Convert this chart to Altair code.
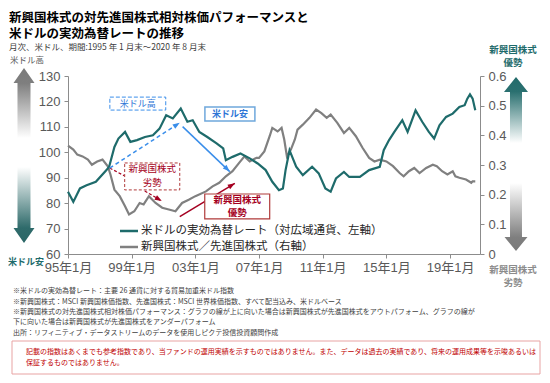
import math
import altair as alt
import pandas as pd

# ---------------- data ----------------
usd_month = ["1995-01","1995-05","1995-10","1996-03","1996-10","1997-06","1997-08","1997-12","1998-03","1998-08",
             "1998-12","1999-05","1999-11","2000-05","2000-10","2001-03","2001-08","2002-02","2002-07","2002-11",
             "2003-04","2003-10","2004-05","2004-10","2004-12","2005-05","2005-11","2006-06","2006-12","2007-06",
             "2007-11","2008-04","2008-07","2008-09","2008-12","2009-02","2009-05","2009-10","2010-05","2010-10",
             "2011-03","2011-07","2011-11","2012-05","2012-09","2013-05","2013-12","2014-08","2014-11","2015-03",
             "2015-07","2016-01","2016-05","2016-11","2017-04","2017-09","2018-01","2018-05","2018-10","2019-03",
             "2019-08","2019-12","2020-02","2020-04","2020-06","2020-08"]
usd_value = [84.5,80.5,85.8,87.0,88.4,93.0,94.3,102.1,105.4,108.0,
             104.1,104.8,106.0,106.7,109.3,114.6,113.3,117.2,112.0,112.6,
             108.0,106.0,103.5,101.5,96.9,98.2,99.5,97.6,95.6,93.0,
             88.4,85.1,85.8,93.0,100.8,98.2,94.3,91.0,94.3,91.7,
             85.8,84.5,89.7,92.3,90.3,90.3,93.0,94.3,100.8,104.8,
             108.0,112.6,108.0,116.5,112.0,108.0,105.4,110.6,113.9,115.2,
             117.8,118.5,121.1,122.8,121.1,116.5]

em_month = ["1995-01","1995-05","1995-08","1995-12","1996-04","1996-07","1996-11","1997-03","1997-07","1997-09",
            "1997-12","1998-04","1998-08","1998-11","1999-03","1999-07","1999-10","2000-02","2000-07","2000-12",
            "2001-05","2001-10","2002-03","2002-08","2003-01","2003-09","2004-02","2004-07","2004-12","2005-05",
            "2005-10","2006-02","2006-06","2006-11","2007-01","2007-05","2007-09","2007-11","2008-03","2008-06",
            "2008-08","2008-10","2009-01","2009-04","2009-06","2009-10","2010-03","2010-08","2010-12","2011-04",
            "2011-07","2011-12","2012-05","2012-09","2013-02","2013-07","2013-12","2014-04","2014-08","2015-01",
            "2015-06","2015-11","2016-02","2016-06","2016-10","2017-02","2017-07","2017-12","2018-03","2018-07",
            "2018-11","2019-03","2019-05","2019-08","2020-01","2020-05","2020-06","2020-08"]
em_value = [0.365,0.352,0.335,0.329,0.318,0.301,0.312,0.318,0.296,0.268,
            0.217,0.195,0.161,0.133,0.144,0.172,0.167,0.195,0.172,0.156,
            0.150,0.144,0.172,0.183,0.195,0.211,0.228,0.240,0.262,0.279,
            0.307,0.329,0.312,0.324,0.324,0.346,0.397,0.425,0.413,0.425,
            0.386,0.329,0.352,0.386,0.419,0.436,0.459,0.487,0.475,0.459,
            0.470,0.442,0.408,0.425,0.397,0.358,0.324,0.312,0.318,0.312,
            0.296,0.273,0.262,0.279,0.290,0.273,0.290,0.301,0.296,0.279,
            0.268,0.279,0.262,0.257,0.251,0.240,0.245,0.245]

x_ticks = [1995, 1999, 2003, 2007, 2011, 2015, 2019]
left_ticks = [60, 70, 80, 90, 100, 110, 120, 130]
right_ticks = [0, 0.1, 0.2, 0.3, 0.4, 0.5, 0.6]

title_lines = ["新興国株式の対先進国株式相対株価パフォーマンスと", "米ドルの実効為替レートの推移"]
subtitle = "月次、米ドル、期間:1995 年 1 月末～2020 年 8 月末"
legend_labels = ["米ドルの実効為替レート（対広域通貨、左軸）", "新興国株式／先進国株式（右軸）"]
footnotes = [
    "※米ドルの実効為替レート：主要 26 通貨に対する貿易加重米ドル指数",
    "※新興国株式：MSCI 新興国株価指数、先進国株式：MSCI 世界株価指数、すべて配当込み、米ドルベース",
    "※新興国株式の対先進国株式相対株価パフォーマンス：グラフの線が上に向いた場合は新興国株式が先進国株式をアウトパフォーム、グラフの線が",
    "下に向いた場合は新興国株式が先進国株式をアンダーパフォーム",
    "出所：リフィニティブ・データストリームのデータを使用しピクテ投信投資顧問作成",
]
disclaimer = [
    "記載の指数はあくまでも参考指数であり、当ファンドの運用実績を示すものではありません。また、データは過去の実績であり、将来の運用成果等を示唆あるいは",
    "保証するものではありません。",
]

# annotation anchors in data coordinates (year, left-axis value)
box_usd_high = (1997.63, 2001.14, 121.7, 116.6)
box_usd_low = (2003.6, 2006.74, 117.8, 112.3)
box_em_weak = (1998.56, 2002.02, 95.8, 85.2)
box_em_strong = (2003.59, 2007.67, 83.6, 73.8)
arrow_blue_dash = (1997.62, 93.8, 2002.02, 111.6)
arrow_blue_solid = (2002.2, 110.1, 2005.16, 92.4)
line_red_dash = (1997.62, 93.8, 1998.56, 90.7)
arrow_red_dash = (1999.82, 84.8, 2000.89, 80.8)
arrow_red_solid = (2002.02, 74.7, 2005.48, 87.8)

# ---------------- setup ----------------
def month_to_x(m):
    y, mo = m.split("-")
    return int(y) + (int(mo) - 1) / 12.0

usd = pd.DataFrame({"t": [month_to_x(m) for m in usd_month], "v": usd_value})
em = pd.DataFrame({"t": [month_to_x(m) for m in em_month], "v": em_value})

X_DOMAIN = [1995, 2020.88]
W, H = 412, 178
PPY = W / (X_DOMAIN[1] - X_DOMAIN[0])
PPU = H / 70.0

JP = "Noto Sans CJK JP"
NUM = "Liberation Sans, Noto Sans CJK JP"
GREEN = "#1E6B6B"
GRAY = "#808080"
BLUE = "#3A8EEA"
RED = "#A50021"
AXC = "#8C8C8C"
LBL = "#595959"

xscale = alt.Scale(domain=X_DOMAIN, nice=False, zero=False)
ylscale = alt.Scale(domain=[60, 130], nice=False, zero=False)
yrscale = alt.Scale(domain=[0, 0.6], nice=False, zero=False)

x_axis = alt.Axis(values=x_ticks, labelExpr="substring(toString(datum.value), 2) + '年1月'",
                  labelFont=NUM, labelFontSize=13, labelColor=LBL, labelPadding=3,
                  domainColor=AXC, tickColor=AXC, tickSize=4, grid=False, title=None,
                  labelFlush=False, labelOverlap=False)
yl_axis = alt.Axis(values=left_ticks, labelFont=NUM, labelFontSize=13, labelColor=LBL, labelPadding=4,
                   domainColor=AXC, tickColor=AXC, tickSize=4, grid=False, title=None, orient="left")
yr_axis = alt.Axis(values=right_ticks, labelExpr="datum.value == 0 ? '0' : format(datum.value, '.1f')",
                   labelFont=NUM, labelFontSize=13, labelColor=LBL, labelPadding=4,
                   domainColor=AXC, tickColor=AXC, tickSize=4, grid=False, title=None, orient="right")


def X(field):
    return alt.X(field, type="quantitative", scale=xscale, axis=x_axis, title=None)


def YL(field):
    return alt.Y(field, type="quantitative", scale=ylscale, axis=yl_axis, title=None)


one = pd.DataFrame({"k": [0]})

green_line = alt.Chart(usd).mark_line(color=GREEN, strokeWidth=2.2).encode(x=X("t"), y=YL("v"))
gray_line = alt.Chart(em).mark_line(color=GRAY, strokeWidth=2.2).encode(
    x=X("t"), y=alt.Y("v", type="quantitative", scale=yrscale, axis=yr_axis, title=None))


def box(b, stroke, dash=None, width=1.0):
    kw = dict(fill="white", stroke=stroke, strokeWidth=width)
    if dash:
        kw["strokeDash"] = dash
    df = pd.DataFrame({"x1": [b[0]], "x2": [b[1]], "y1": [b[2]], "y2": [b[3]]})
    return alt.Chart(df).mark_rect(**kw).encode(x=X("x1"), x2="x2", y=YL("y1"), y2="y2")


HEAD = "M0,0L0.5,1.35L-0.5,1.35Z"


def arrow(a, color, dash=None, head=True, width=1.5):
    kw = dict(color=color, strokeWidth=width)
    if dash:
        kw["strokeDash"] = dash
    df = pd.DataFrame({"x1": [a[0]], "y1": [a[1]], "x2": [a[2]], "y2": [a[3]]})
    layers = [alt.Chart(df).mark_rule(**kw).encode(x=X("x1"), y=YL("y1"), x2="x2", y2="y2")]
    if head:
        ang = math.degrees(math.atan2((a[2] - a[0]) * PPY, (a[3] - a[1]) * PPU)) % 360
        layers.append(alt.Chart(df).mark_point(shape=HEAD, size=110, filled=True, fill=color, opacity=1,
                                               strokeWidth=0, angle=ang).encode(x=X("x2"), y=YL("y2")))
    return layers


def dtext(txt, x, y, color, size, bold=False):
    df = pd.DataFrame({"x": [x], "y": [y], "s": [txt]})
    return alt.Chart(df).mark_text(color=color, fontSize=size, font=JP,
                                   fontWeight="bold" if bold else "normal",
                                   align="center", baseline="middle").encode(x=X("x"), y=YL("y"), text="s:N")


def ptext(txt, px, py, color="#262626", size=9, bold=False, align="left"):
    # px, py: pixel positions relative to the plot origin
    return alt.Chart(one).mark_text(text=txt, color=color, fontSize=size, font=JP,
                                    fontWeight="bold" if bold else "normal",
                                    align=align, baseline="middle").encode(x=alt.value(px), y=alt.value(py))


def grad(stops):
    return alt.LinearGradient(gradient="linear", x1=0, x2=0, y1=0, y2=1,
                              stops=[alt.GradientStop(color=c, offset=o) for o, c in stops])


def big_arrow(cx, cy, half_h, head_hw, shaft_hw, head_len, up, stops):
    s = half_h
    hw, sw = head_hw / s, shaft_hw / s
    hb = head_len / s
    if up:
        p = (f"M0,-1L{hw:.3f},{-1+hb:.3f}L{sw:.3f},{-1+hb:.3f}L{sw:.3f},1L{-sw:.3f},1"
             f"L{-sw:.3f},{-1+hb:.3f}L{-hw:.3f},{-1+hb:.3f}Z")
    else:
        p = (f"M0,1L{hw:.3f},{1-hb:.3f}L{sw:.3f},{1-hb:.3f}L{sw:.3f},-1L{-sw:.3f},-1"
             f"L{-sw:.3f},{1-hb:.3f}L{-hw:.3f},{1-hb:.3f}Z")
    return alt.Chart(one).mark_point(shape=p, size=(2 * s) ** 2, filled=True, fill=grad(stops),
                                     opacity=1, strokeWidth=0).encode(x=alt.value(cx), y=alt.value(cy))


# ---------------- annotation layer (left scale) ----------------
annot = []
annot += arrow(line_red_dash, RED, dash=[3, 2], head=False, width=1.2)
annot += arrow(arrow_blue_dash, BLUE, dash=[4, 3])
annot += arrow(arrow_blue_solid, BLUE)
annot += arrow(arrow_red_dash, RED, dash=[3, 2], width=1.2)
annot += arrow(arrow_red_solid, RED)
annot += [box(box_usd_high, "#3A8EEA", dash=[4, 2]), box(box_usd_low, "#6FA8DC", width=1.5),
          box(box_em_weak, "#B03A3A", dash=[3, 2]), box(box_em_strong, "#B03A3A", width=1.2)]
cx = lambda b: (b[0] + b[1]) / 2
annot += [
    dtext("米ドル高", cx(box_usd_high), 119.15, "#2E75D6", 9),
    dtext("米ドル安", cx(box_usd_low), 115.05, "#2E75D6", 9, bold=True),
    dtext("新興国株式", cx(box_em_weak), 93.3, "#A50021", 9.5),
    dtext("劣勢", cx(box_em_weak), 88.1, "#A50021", 9.5),
    dtext("新興国株式", cx(box_em_strong), 81.3, "#A50021", 9.5, bold=True),
    dtext("優勢", cx(box_em_strong), 76.0, "#A50021", 9.5, bold=True),
]

left_layer = alt.layer(green_line, *annot)

# ---------------- page decorations (pixel positions relative to plot origin) ----------------
deco = []
deco.append(ptext(title_lines[0], -59, -58, "#000000", 12.5, bold=True))
deco.append(ptext(title_lines[1], -59, -42, "#000000", 12.5, bold=True))
deco.append(ptext(subtitle, -59, -29, "#404040", 8.5))
deco.append(ptext("米ドル高", -41, -16, "#595959", 8.5, align="center"))
deco.append(ptext("米ドル安", -42, 186, GREEN, 9, bold=True, align="center"))
deco.append(ptext("新興国株式", 445, -26, GREEN, 9.5, bold=True, align="center"))
deco.append(ptext("優勢", 445, -13, GREEN, 9.5, bold=True, align="center"))
deco.append(ptext("新興国株式", 445, 194, "#8C8C8C", 9.5, bold=True, align="center"))
deco.append(ptext("劣勢", 445, 207, "#8C8C8C", 9.5, bold=True, align="center"))

# side arrows
deco.append(big_arrow(-44, 27, 35, 10.5, 6.5, 15, True,
                      [(0, "#7A7A7A"), (0.22, "#7F7F7F"), (1, "#FFFFFF")]))
deco.append(big_arrow(-44, 129, 38, 10.5, 6.5, 15, False,
                      [(0, "#FFFFFF"), (0.8, "#2F6B6B"), (1, "#2A6666")]))
deco.append(big_arrow(448, 34, 33, 12, 6, 15, True,
                      [(0, "#236B6B"), (0.22, "#2A7070"), (1, "#FFFFFF")]))
deco.append(big_arrow(448, 141, 34, 11.5, 6, 14, False,
                      [(0, "#FFFFFF"), (0.8, "#7F7F7F"), (1, "#7A7A7A")]))

# legend
deco.append(alt.Chart(one).mark_rule(color=GREEN, strokeWidth=2.5).encode(
    x=alt.value(52), x2=alt.value(70), y=alt.value(155)))
deco.append(alt.Chart(one).mark_rule(color=GRAY, strokeWidth=2.5).encode(
    x=alt.value(52), x2=alt.value(70), y=alt.value(171)))
deco.append(ptext(legend_labels[0], 73, 155, "#262626", 11.5))
deco.append(ptext(legend_labels[1], 73, 171, "#262626", 11.5))

# footnotes
for txt, yy in zip(footnotes, [215, 225.5, 236, 246, 256.5]):
    deco.append(ptext(txt, -55, yy, "#404040", 7))

# disclaimer box
deco.append(alt.Chart(one).mark_rect(fill="white", stroke="#E8A3A3", strokeWidth=1).encode(
    x=alt.value(-56), x2=alt.value(472), y=alt.value(265), y2=alt.value(298)))
deco.append(ptext(disclaimer[0], -42, 276, "#C00000", 7))
deco.append(ptext(disclaimer[1], -42, 287, "#C00000", 7))

chart = alt.layer(gray_line, left_layer, *deco).resolve_scale(y="independent").properties(
    width=W, height=H,
    padding={"left": 60, "top": 68, "right": 62, "bottom": 121},
    autosize=alt.AutoSizeParams(type="none"),
    background="white",
).configure_view(stroke=None)

chart.save("out.html", embed_options={"renderer": "svg", "actions": False})
